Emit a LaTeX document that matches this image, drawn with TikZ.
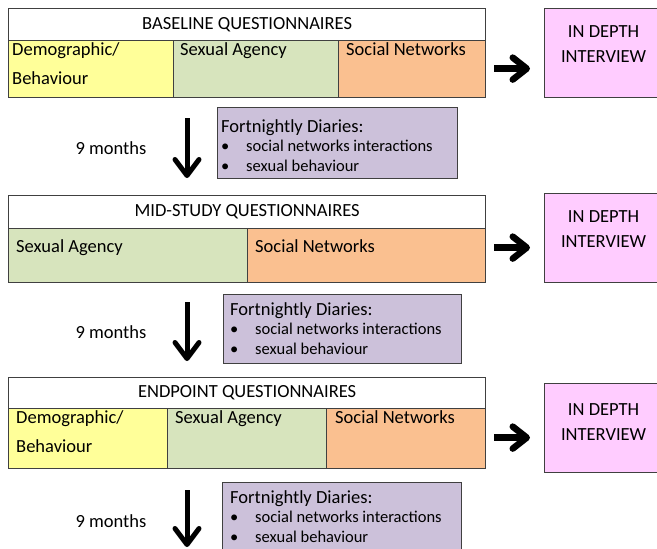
\documentclass[tikz,border=0pt]{standalone}
\usepackage{fontspec}
\setmainfont{Carlito}
\definecolor{edge}{HTML}{404040}
\definecolor{demoyel}{HTML}{FFFF99}
\definecolor{agencygrn}{HTML}{D7E4BD}
\definecolor{netorange}{HTML}{FAC090}
\definecolor{ivpink}{HTML}{FFCCFF}
\definecolor{diarylilac}{HTML}{CCC1DA}
\usetikzlibrary{positioning, arrows.meta}
\newcommand{\bulletitem}[1]{\makebox[25pt][l]{\textbullet}#1}

\begin{document}
\begin{tikzpicture}[x=1pt, y=-1pt,
  qtitle/.style={draw=edge, line width=1.2pt, fill=white, anchor=north west,
                 minimum width=477pt, inner sep=0pt, font=\fontsize{18.5}{22}\selectfont},
  cell/.style={draw=edge, line width=1.2pt, anchor=north west, inner sep=0pt},
  celltext/.style={anchor=base west, align=left, inner sep=0pt,
                   font=\fontsize{18.5}{29}\selectfont},
  interview/.style={draw=edge, line width=1.2pt, fill=ivpink, anchor=north west,
                    minimum width=118pt, minimum height=89pt, inner sep=0pt},
  ivtext/.style={anchor=base, align=center, inner sep=0pt,
                 font=\fontsize{18.5}{25}\selectfont},
  diary/.style={draw=edge, line width=1.2pt, fill=diarylilac, anchor=north west, inner sep=0pt},
  diarytext/.style={anchor=base west, align=left, inner sep=0pt,
                    font=\fontsize{16.5}{19.5}\selectfont},
  gap/.style={font=\fontsize{18.5}{22}\selectfont, inner sep=0pt},
  downarrow/.style={line width=5pt, -{Straight Barb[round, length=16pt, width=24pt]}},
  sidearrow/.style={line width=6.5pt, -{Straight Barb[round, length=14pt, width=22pt]}},
]
\useasboundingbox (0,0) rectangle (657,549);
\clip (0,0) rectangle (657,549);

% baseline (text nodes sit on their last line)
\node[qtitle, minimum height=32pt] (title1) at (8,8) {BASELINE QUESTIONNAIRES};
\node[cell, fill=demoyel, minimum width=165pt, minimum height=57pt] (demo1) at (8,40) {};
\node[cell, fill=agencygrn, minimum width=165pt, minimum height=57pt] (agency1) at (173,40) {};
\node[cell, fill=netorange, minimum width=147pt, minimum height=57pt] (net1) at (338,40) {};
\node[celltext] at ([xshift=4pt,yshift=-44.5pt]demo1.north west) {Demographic/\\Behaviour};
\node[celltext] at ([xshift=7pt,yshift=-15.5pt]agency1.north west) {Sexual Agency};
\node[celltext] at ([xshift=8pt,yshift=-15.5pt]net1.north west) {Social Networks};
\node[interview] (iv1) at (544,8) {};
\node[ivtext] at ([yshift=-54pt]iv1.north) {IN DEPTH\\INTERVIEW};
\draw[sidearrow, shorten <=8pt, shorten >=14pt] ([yshift=0.5pt]net1.east) -- ([yshift=0.5pt]net1.east -| iv1.west);

\node[gap] (gap1) at (111,148) {9 months};
\coordinate (d1top) at (187,118);
\coordinate (d1tip) at (187,178);
\draw[downarrow] (d1top) -- (d1tip);
\node[diary, minimum width=240pt, minimum height=71pt] (diary1) at (217,107) {};
\node[diarytext] at ([xshift=4pt,yshift=-64pt]diary1.north west)
  {{\fontsize{18.5}{19.5}\selectfont Fortnightly Diaries:}\\
   \bulletitem{social networks interactions}\\
   \bulletitem{sexual behaviour}};

% mid-study
\node[qtitle, minimum height=33pt] (title2) at (8,195) {MID-STUDY QUESTIONNAIRES};
\node[cell, fill=agencygrn, minimum width=239pt, minimum height=54pt] (agency2) at (8,228) {};
\node[cell, fill=netorange, minimum width=238pt, minimum height=54pt] (net2) at (247,228) {};
\node[celltext] at ([xshift=8pt,yshift=-24pt]agency2.north west) {Sexual Agency};
\node[celltext] at ([xshift=8pt,yshift=-24pt]net2.north west) {Social Networks};
\node[interview] (iv2) at (544,193) {};
\node[ivtext] at ([yshift=-54pt]iv2.north) {IN DEPTH\\INTERVIEW};
\draw[sidearrow, shorten <=8pt, shorten >=14pt] ([yshift=8pt]net2.east) -- ([yshift=8pt]net2.east -| iv2.west);

\node[gap] (gap2) at (111,332) {9 months};
\coordinate (d2top) at (187,302);
\coordinate (d2tip) at (187,361);
\draw[downarrow] (d2top) -- (d2tip);
\node[diary, minimum width=238pt, minimum height=69pt] (diary2) at (223,294) {};
\node[diarytext] at ([xshift=7pt,yshift=-60pt]diary2.north west)
  {{\fontsize{18.5}{19.5}\selectfont Fortnightly Diaries:}\\
   \bulletitem{social networks interactions}\\
   \bulletitem{sexual behaviour}};

% endpoint
\node[qtitle, minimum height=31pt] (title3) at (8,377) {ENDPOINT QUESTIONNAIRES};
\node[cell, fill=demoyel, minimum width=159pt, minimum height=60pt] (demo3) at (8,408) {};
\node[cell, fill=agencygrn, minimum width=159pt, minimum height=60pt] (agency3) at (167,408) {};
\node[cell, fill=netorange, minimum width=159pt, minimum height=60pt] (net3) at (326,408) {};
\node[celltext] at ([xshift=8pt,yshift=-44.5pt]demo3.north west) {Demographic/\\Behaviour};
\node[celltext] at ([xshift=8pt,yshift=-15.5pt]agency3.north west) {Sexual Agency};
\node[celltext] at ([xshift=9pt,yshift=-15.5pt]net3.north west) {Social Networks};
\node[interview] (iv3) at (544,383) {};
\node[ivtext] at ([yshift=-57pt]iv3.north) {IN DEPTH\\INTERVIEW};
\draw[sidearrow, shorten <=8pt, shorten >=14pt] ([yshift=1pt]net3.east) -- ([yshift=1pt]net3.east -| iv3.west);

\node[gap] (gap3) at (111,521) {9 months};
\coordinate (d3top) at (187,490);
\coordinate (d3tip) at (187,547);
\draw[downarrow] (d3top) -- (d3tip);
\node[diary, minimum width=239pt, minimum height=80pt] (diary3) at (222,482) {};
\node[diarytext] at ([xshift=8pt,yshift=-60pt]diary3.north west)
  {{\fontsize{18.5}{19.5}\selectfont Fortnightly Diaries:}\\
   \bulletitem{social networks interactions}\\
   \bulletitem{sexual behaviour}};
\end{tikzpicture}
\end{document}
